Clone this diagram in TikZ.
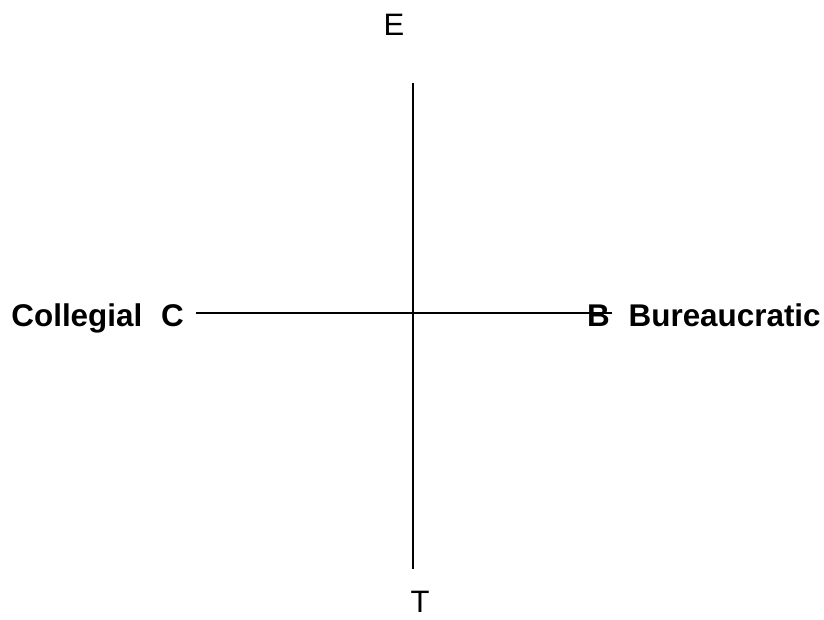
\documentclass[tikz,border=0pt]{standalone}
\usepackage{fontspec}
\setmainfont{Liberation Sans}
\begin{document}
\begin{tikzpicture}[x=1pt,y=1pt,
  axislabel/.style={inner sep=0pt,font=\fontsize{31}{36}\selectfont},
  sidelabel/.style={inner sep=0pt,font=\fontsize{31.4}{36}\selectfont\bfseries},
  axisline/.style={line width=1.5pt,black}]
\useasboundingbox (0,0) rectangle (824,619);
\node[axislabel] (E) at (394,594) {E};
\node[axislabel] (T) at (420,17) {T};
\node[sidelabel,anchor=base east] (C) at (184,292) {Collegial\hspace{0.6em}C};
\node[sidelabel,anchor=base west] (B) at (587,292) {B\hspace{0.6em}Bureaucratic};
\coordinate (top) at (413,536);
\coordinate (bot) at (413,50);
\coordinate (left) at (196,306);
\coordinate (right) at (612,306);
\draw[axisline] (top) -- (bot);
\draw[axisline] (left) -- (right);
\end{tikzpicture}
\end{document}
